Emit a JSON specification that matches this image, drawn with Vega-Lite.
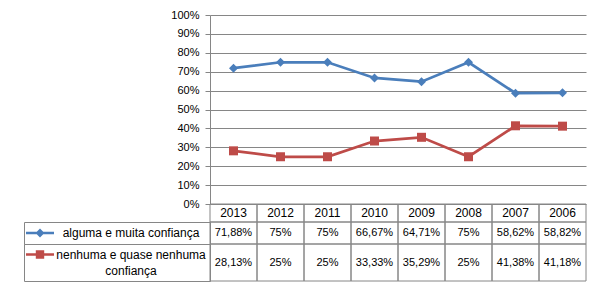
{
  "$schema": "https://vega.github.io/schema/vega-lite/v6.json",
  "padding": {"left": 23, "top": 9, "right": 0, "bottom": 0},
  "background": "white",
  "datasets": {
    "pts": [
      {"year": "2013", "series": "alguma e muita confiança", "value": 0.7188},
      {"year": "2012", "series": "alguma e muita confiança", "value": 0.75},
      {"year": "2011", "series": "alguma e muita confiança", "value": 0.75},
      {"year": "2010", "series": "alguma e muita confiança", "value": 0.6667},
      {"year": "2009", "series": "alguma e muita confiança", "value": 0.6471},
      {"year": "2008", "series": "alguma e muita confiança", "value": 0.75},
      {"year": "2007", "series": "alguma e muita confiança", "value": 0.5862},
      {"year": "2006", "series": "alguma e muita confiança", "value": 0.5882},
      {"year": "2013", "series": "nenhuma e quase nenhuma\nconfiança", "value": 0.2813},
      {"year": "2012", "series": "nenhuma e quase nenhuma\nconfiança", "value": 0.25},
      {"year": "2011", "series": "nenhuma e quase nenhuma\nconfiança", "value": 0.25},
      {"year": "2010", "series": "nenhuma e quase nenhuma\nconfiança", "value": 0.3333},
      {"year": "2009", "series": "nenhuma e quase nenhuma\nconfiança", "value": 0.3529},
      {"year": "2008", "series": "nenhuma e quase nenhuma\nconfiança", "value": 0.25},
      {"year": "2007", "series": "nenhuma e quase nenhuma\nconfiança", "value": 0.4138},
      {"year": "2006", "series": "nenhuma e quase nenhuma\nconfiança", "value": 0.4118}
    ],
    "years": [
      {"year": "2013"}, {"year": "2012"}, {"year": "2011"}, {"year": "2010"},
      {"year": "2009"}, {"year": "2008"}, {"year": "2007"}, {"year": "2006"}
    ],
    "legend1": [{"series": "alguma e muita confiança"}],
    "legend2": [{"series": "nenhuma e quase nenhuma\nconfiança"}]
  },
  "columns": 2,
  "spacing": 0,
  "bounds": "flush",
  "concat": [
    {
      "width": 186, "height": 189,
      "data": {"values": []},
      "mark": {"type": "point", "opacity": 0},
      "encoding": {}
    },
    {
      "width": 376, "height": 189,
      "data": {"name": "pts"},
      "encoding": {
        "x": {"field": "year", "type": "nominal", "sort": ["2013","2012","2011","2010","2009","2008","2007","2006"],
              "scale": {"paddingInner": 0, "paddingOuter": 0}, "axis": null},
        "y": {"field": "value", "type": "quantitative", "scale": {"domain": [0, 1], "nice": false},
              "axis": {"values": [0,0.1,0.2,0.3,0.4,0.5,0.6,0.7,0.8,0.9,1], "format": ".0%", "title": null,
                       "grid": true, "gridColor": "#868686", "gridWidth": 1, "gridOpacity": 1,
                       "domain": true, "domainColor": "#868686", "domainWidth": 1,
                       "ticks": true, "tickColor": "#868686", "tickSize": 5,
                       "labelPadding": 6, "labelFont": "Liberation Sans", "labelFontSize": 11, "labelColor": "#000000"}},
        "color": {"field": "series", "type": "nominal", "legend": null,
                  "scale": {"domain": ["alguma e muita confiança", "nenhuma e quase nenhuma\nconfiança"], "range": ["#4A7EBB", "#BE4B48"]}},
        "shape": {"field": "series", "type": "nominal", "legend": null,
                  "scale": {"domain": ["alguma e muita confiança", "nenhuma e quase nenhuma\nconfiança"], "range": ["diamond", "square"]}}
      },
      "layer": [
        {"mark": {"type": "line", "strokeWidth": 2.75}},
        {"mark": {"type": "point", "filled": true, "opacity": 1, "size": 81}}
      ]
    },
    {
      "width": 186, "height": 18,
      "data": {"values": []},
      "mark": {"type": "point", "opacity": 0},
      "encoding": {}
    },
    {
      "width": 376, "height": 18,
      "data": {"name": "years"},
      "encoding": {
        "x": {"field": "year", "type": "nominal", "sort": ["2013","2012","2011","2010","2009","2008","2007","2006"],
              "scale": {"paddingInner": 0, "paddingOuter": 0}, "axis": null}
      },
      "layer": [
        {"mark": {"type": "rect", "fill": null, "stroke": "#868686", "strokeWidth": 1}},
        {"mark": {"type": "text", "font": "Liberation Sans", "fontSize": 12, "color": "#000000"},
         "encoding": {"text": {"field": "year"}}}
      ]
    },
    {
      "width": 186, "height": 22,
      "view": {"stroke": "#868686", "strokeWidth": 1},
      "data": {"name": "legend1"},
      "layer": [
        {"mark": {"type": "point", "filled": true, "opacity": 1, "size": 784, "xOffset": -77, "color": "#4A7EBB",
                  "shape": "M-1,-0.09H1V0.09H-1Z M0,-0.32L0.32,0L0,0.32L-0.32,0Z"}, "encoding": {}},
        {"mark": {"type": "text", "font": "Liberation Sans", "fontSize": 12, "color": "#000000", "dx": 14, "lineBreak": "\n"},
         "encoding": {"text": {"field": "series"}}}
      ]
    },
    {
      "width": 376, "height": 22,
      "data": {"name": "pts"},
      "transform": [{"filter": "datum.series == 'alguma e muita confiança'"}],
      "encoding": {
        "x": {"field": "year", "type": "nominal", "sort": ["2013","2012","2011","2010","2009","2008","2007","2006"],
              "scale": {"paddingInner": 0, "paddingOuter": 0}, "axis": null}
      },
      "layer": [
        {"mark": {"type": "rect", "fill": null, "stroke": "#868686", "strokeWidth": 1}},
        {"mark": {"type": "text", "font": "Liberation Sans", "fontSize": 11, "color": "#000000"},
         "encoding": {"text": {"field": "value", "type": "quantitative", "format": ".2~%"}}}
      ]
    },
    {
      "width": 186, "height": 37,
      "view": {"stroke": "#868686", "strokeWidth": 1},
      "data": {"name": "legend2"},
      "layer": [
        {"mark": {"type": "point", "filled": true, "opacity": 1, "size": 784, "xOffset": -77, "yOffset": -8, "color": "#BE4B48",
                  "shape": "M-1,-0.09H1V0.09H-1Z M-0.3,-0.3H0.3V0.3H-0.3Z"}, "encoding": {}},
        {"mark": {"type": "text", "font": "Liberation Sans", "fontSize": 12, "color": "#000000", "dx": 14, "dy": -8, "lineBreak": "\n", "lineHeight": 16},
         "encoding": {"text": {"field": "series"}}}
      ]
    },
    {
      "width": 376, "height": 37,
      "data": {"name": "pts"},
      "transform": [{"filter": "datum.series != 'alguma e muita confiança'"}],
      "encoding": {
        "x": {"field": "year", "type": "nominal", "sort": ["2013","2012","2011","2010","2009","2008","2007","2006"],
              "scale": {"paddingInner": 0, "paddingOuter": 0}, "axis": null}
      },
      "layer": [
        {"mark": {"type": "rect", "fill": null, "stroke": "#868686", "strokeWidth": 1}},
        {"mark": {"type": "text", "font": "Liberation Sans", "fontSize": 11, "color": "#000000"},
         "encoding": {"text": {"field": "value", "type": "quantitative", "format": ".2~%"}}}
      ]
    }
  ],
  "resolve": {"scale": {"x": "independent", "y": "independent"}},
  "config": {
    "locale": {"number": {"decimal": ",", "thousands": ".", "grouping": [3], "currency": ["", " €"]}},
    "view": {"stroke": null},
    "font": "Liberation Sans"
  }
}
